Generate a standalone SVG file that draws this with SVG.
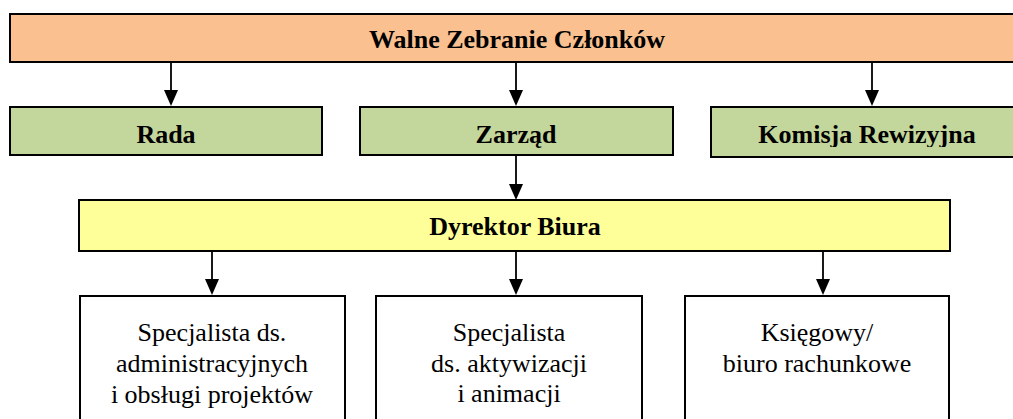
<svg xmlns="http://www.w3.org/2000/svg" width="1013" height="419" viewBox="0 0 1013 419">
<style>
.box{stroke:#000;stroke-width:2}
.top{fill:#FAC090}
.green{fill:#C3D69B}
.yellow{fill:#FFFF99}
.white{fill:#fff}
.conn{stroke:#000;stroke-width:1.8;fill:none}
.head{fill:#000;stroke:none}
</style>
<defs>
<clipPath id="kclip"><rect x="711" y="107" width="310" height="40"/></clipPath>
</defs>
<rect width="1013" height="419" fill="#fff"/>
<g id="connectors">
<line class="conn" x1="171" y1="62" x2="171" y2="90"/><path class="head" d="M164,90 L178,90 L171,106 Z"/>
<line class="conn" x1="516" y1="62" x2="516" y2="90"/><path class="head" d="M509,90 L523,90 L516,106 Z"/>
<line class="conn" x1="872" y1="62" x2="872" y2="90"/><path class="head" d="M865,90 L879,90 L872,106 Z"/>
<line class="conn" x1="516" y1="156" x2="516" y2="184"/><path class="head" d="M509,184 L523,184 L516,200 Z"/>
<line class="conn" x1="212" y1="251" x2="212" y2="279"/><path class="head" d="M205,279 L219,279 L212,295 Z"/>
<line class="conn" x1="516" y1="251" x2="516" y2="279"/><path class="head" d="M509,279 L523,279 L516,295 Z"/>
<line class="conn" x1="823" y1="251" x2="823" y2="279"/><path class="head" d="M816,279 L830,279 L823,295 Z"/>
</g>
<g font-family="Liberation Serif, Times New Roman, serif" font-size="26" text-anchor="middle" fill="#000">
<g id="walne" font-weight="bold">
<rect class="box top" x="10" y="14" width="1015" height="48"/>
<text x="517" y="48">Walne Zebranie Członków</text>
</g>
<g id="rada" font-weight="bold">
<rect class="box green" x="10" y="107" width="312" height="48"/>
<text x="166" y="143">Rada</text>
</g>
<g id="zarzad" font-weight="bold">
<rect class="box green" x="360" y="107" width="313" height="48"/>
<text x="516" y="143">Zarząd</text>
</g>
<g id="komisja" font-weight="bold">
<rect class="box green" x="711" y="107" width="315" height="50"/>
<text x="867" y="143" clip-path="url(#kclip)">Komisja Rewizyjna</text>
</g>
<g id="dyrektor" font-weight="bold">
<rect class="box yellow" x="79" y="200" width="871" height="51"/>
<text x="515" y="235">Dyrektor Biura</text>
</g>
<g id="spec-admin">
<rect class="box white" x="80" y="296" width="265" height="140"/>
<text x="212" y="341">Specjalista ds.</text>
<text x="212" y="372">administracyjnych</text>
<text x="212" y="403">i obsługi projektów</text>
</g>
<g id="spec-aktyw">
<rect class="box white" x="376" y="296" width="266" height="140"/>
<text x="509" y="341">Specjalista</text>
<text x="509" y="372">ds. aktywizacji</text>
<text x="509" y="402">i animacji</text>
</g>
<g id="ksiegowy">
<rect class="box white" x="685" y="296" width="264" height="140"/>
<text x="817" y="341">Księgowy/</text>
<text x="817" y="372">biuro rachunkowe</text>
</g>
</g>
</svg>
